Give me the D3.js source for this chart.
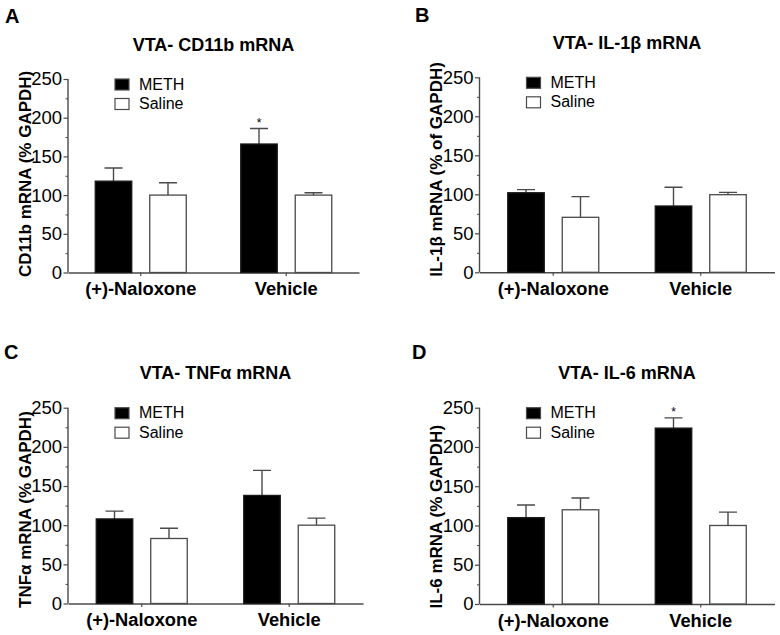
<!DOCTYPE html>
<html><head><meta charset="utf-8">
<script src="https://cdn.jsdelivr.net/npm/d3@7"></script>
<style>
body{margin:0;background:#fff}
svg{display:block}
text{font-family:Arial,"Liberation Sans",Helvetica,sans-serif;fill:#000}
</style>
</head><body>
<svg id="chart" width="780" height="635"></svg>
<script>
// ---------- data ----------
const categories = ["(+)-Naloxone", "Vehicle"];
const seriesNames = ["METH", "Saline"];
const yTickValues = [0, 50, 100, 150, 200, 250];
const yMinorTicks = [25, 75, 125, 175, 225];

const panelLetters = ["A", "B", "C", "D"];
const panelTitles = ["VTA- CD11b mRNA", "VTA- IL-1\u03B2 mRNA", "VTA- TNF\u03B1 mRNA", "VTA- IL-6 mRNA"];
const panelYLabels = ["CD11b mRNA (% GAPDH)", "IL-1\u03B2 mRNA (% of GAPDH)", "TNF\u03B1 mRNA (% GAPDH)", "IL-6 mRNA (% GAPDH)"];

// means per category [(+)-Naloxone, Vehicle]
const cd11bMeth = [118, 166], cd11bMethSem = [17, 20];
const cd11bSaline = [100, 100], cd11bSalineSem = [16, 3];
const il1bMeth = [102, 85], il1bMethSem = [4, 24];
const il1bSaline = [70.5, 99.5], il1bSalineSem = [26.5, 3];
const tnfaMeth = [108, 138], tnfaMethSem = [10, 32];
const tnfaSaline = [83, 100], tnfaSalineSem = [13, 9];
const il6Meth = [110, 224], il6MethSem = [16, 13];
const il6Saline = [120, 100], il6SalineSem = [15, 17];
// significance markers on METH bar per category
const cd11bStar = [false, true];
const il1bStar = [false, false];
const tnfaStar = [false, false];
const il6Star = [false, true];

// ---------- layout ----------
const layout = [
  {x0: 68,    x1: 359,   yBot: 272.5, yTop: 79,    lx: 5,   ly: 22.5},
  {x0: 479.5, x1: 774.5, yBot: 272.3, yTop: 77.3,  lx: 415, ly: 22},
  {x0: 68,    x1: 363,   yBot: 603.5, yTop: 407.7, lx: 4,   ly: 359},
  {x0: 479.5, x1: 774.5, yBot: 604,   yTop: 407.7, lx: 412, ly: 359}
];

const panels = [
  {meth: cd11bMeth, methSem: cd11bMethSem, saline: cd11bSaline, salineSem: cd11bSalineSem, star: cd11bStar},
  {meth: il1bMeth, methSem: il1bMethSem, saline: il1bSaline, salineSem: il1bSalineSem, star: il1bStar},
  {meth: tnfaMeth, methSem: tnfaMethSem, saline: tnfaSaline, salineSem: tnfaSalineSem, star: tnfaStar},
  {meth: il6Meth, methSem: il6MethSem, saline: il6Saline, salineSem: il6SalineSem, star: il6Star}
];

const axisColor = "#4a4a4a";
const svg = d3.select("#chart");

panels.forEach((p, i) => {
  const L = layout[i];
  const g = svg.append("g");
  const x = d3.scaleBand().domain(categories).range([L.x0, L.x1]).padding(0);
  const inner = d3.scaleBand().domain(seriesNames).range([-45.5, 45.5]).paddingInner(0.33).paddingOuter(0);
  const y = d3.scaleLinear().domain([0, 250]).range([L.yBot, L.yTop]);

  // panel letter
  g.append("text").attr("x", L.lx).attr("y", L.ly)
    .attr("font-size", 20).attr("font-weight", "bold").text(panelLetters[i]);

  // title
  g.append("text").attr("x", (L.x0 + L.x1) / 2).attr("y", L.yTop - 28.5)
    .attr("text-anchor", "middle").attr("font-size", 18).attr("font-weight", "bold")
    .text(panelTitles[i]);

  // y label
  g.append("text")
    .attr("transform", `translate(${L.x0 - 37.5},${L.yBot + 4.5}) rotate(-90)`)
    .attr("text-anchor", "start").attr("font-size", 17).attr("font-weight", "bold")
    .text(panelYLabels[i]);

  // y axis
  const yAxis = d3.axisLeft(y).tickValues(yTickValues).tickSize(4.5).tickPadding(1.5).tickFormat(d3.format("d"));
  const ya = g.append("g").attr("transform", `translate(${L.x0},0)`).call(yAxis);
  ya.select(".domain").attr("stroke", axisColor).attr("stroke-width", 1.4).attr("d", `M0,${L.yBot}V${L.yTop}`);
  ya.selectAll(".tick line").attr("stroke", axisColor).attr("stroke-width", 1.2);
  ya.selectAll(".tick text").attr("font-size", 18.5).attr("font-family", "Arial, 'Liberation Sans', sans-serif").attr("fill", "#000");
  // minor ticks
  const yMinor = d3.axisLeft(y).tickValues(yMinorTicks).tickSize(2.5).tickFormat("");
  const ym = g.append("g").attr("transform", `translate(${L.x0},0)`).call(yMinor);
  ym.select(".domain").remove();
  ym.selectAll(".tick line").attr("stroke", axisColor).attr("stroke-width", 1);

  // x axis
  const xAxis = d3.axisBottom(x).tickSize(3.5).tickPadding(8).tickSizeOuter(0);
  const xa = g.append("g").attr("transform", `translate(0,${L.yBot})`).call(xAxis);
  xa.select(".domain").attr("stroke", axisColor).attr("stroke-width", 1.4);
  xa.selectAll(".tick line").attr("stroke", axisColor).attr("stroke-width", 1.2);
  xa.selectAll(".tick text").remove();
  // category labels
  g.selectAll(".cat").data(categories).enter().append("text")
    .attr("x", d => x(d) + x.bandwidth() / 2).attr("y", L.yBot + 22.5)
    .attr("text-anchor", "middle").attr("font-size", 18.3).attr("font-weight", "bold")
    .text(d => d);

  // bars
  const rows = [];
  categories.forEach((c, ci) => {
    rows.push({cat: c, s: "METH", v: p.meth[ci], e: p.methSem[ci], star: p.star[ci]});
    rows.push({cat: c, s: "Saline", v: p.saline[ci], e: p.salineSem[ci], star: false});
  });
  const cx = d => x(d.cat) + x.bandwidth() / 2 + inner(d.s);
  const bw = inner.bandwidth();

  // error bars
  g.selectAll(".err").data(rows).enter().append("path")
    .attr("d", d => {
      const mx = cx(d) + bw / 2;
      return `M${mx},${y(d.v)}V${y(d.v + d.e)}M${mx - 9},${y(d.v + d.e)}H${mx + 9}`;
    })
    .attr("stroke", axisColor).attr("stroke-width", 1.4).attr("fill", "none");

  g.selectAll(".bar").data(rows).enter().append("rect")
    .attr("x", d => cx(d)).attr("width", bw)
    .attr("y", d => y(d.v)).attr("height", d => y(0) - y(d.v))
    .attr("fill", d => d.s === "METH" ? "#000" : "#fff")
    .attr("stroke", d => d.s === "METH" ? "#1a1a1a" : axisColor).attr("stroke-width", 1.3);

  // significance stars
  g.selectAll(".star").data(rows.filter(d => d.star)).enter().append("text")
    .attr("x", d => cx(d) + bw / 2).attr("y", d => y(d.v + d.e) - 1.5)
    .attr("text-anchor", "middle").attr("font-size", 12).text("*");

  // legend
  seriesNames.forEach((s, si) => {
    const ly = L.yTop + si * 19.5;
    g.append("rect").attr("x", L.x0 + 47).attr("y", ly).attr("width", 14).attr("height", 11)
      .attr("fill", s === "METH" ? "#000" : "#fff").attr("stroke", axisColor).attr("stroke-width", 1.2);
    g.append("text").attr("x", L.x0 + 71).attr("y", ly + 10.5)
      .attr("font-size", 16).text(s);
  });
});
</script>
</body></html>
